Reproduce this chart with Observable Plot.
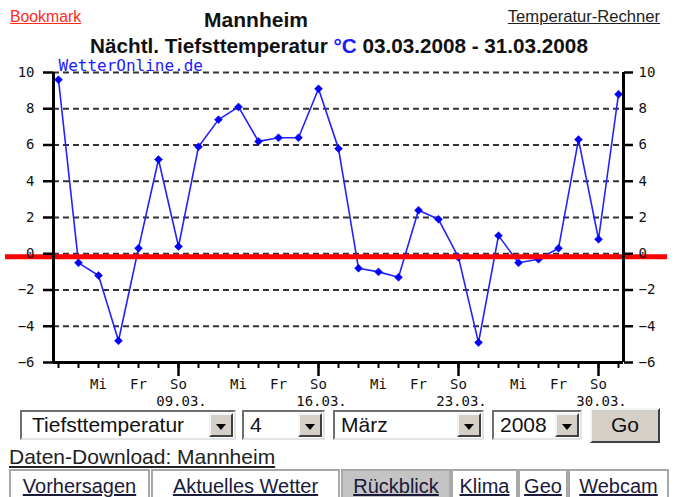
<!DOCTYPE html>
<html>
<head>
<meta charset="utf-8">
<script src="https://cdn.jsdelivr.net/npm/d3@7"></script>
<script src="https://cdn.jsdelivr.net/npm/@observablehq/plot@0.6"></script>
<style>
  body { margin:0; background:#fff; }
  #page { position:relative; width:677px; height:497px; overflow:hidden; background:#fff; font-family:"Liberation Sans", Arial, sans-serif; }
  .abs { position:absolute; line-height:1; white-space:nowrap; }
  .sel { position:absolute; top:410px; height:30px; box-sizing:border-box; border:2px solid; border-color:#6f6f6f #e4e4e4 #e4e4e4 #6f6f6f; background:#fff; font-size:21px; line-height:26px; color:#111; }
  .sel .t { position:absolute; left:10px; top:0; }
  .sel .btn { position:absolute; right:1px; top:1px; bottom:1px; width:24px; box-sizing:border-box; background:#d4d0c8; border:2px solid; border-color:#f4f4f4 #404040 #404040 #f4f4f4; }
  .sel .btn:after { content:""; position:absolute; left:5px; top:9px; width:0; height:0; border-left:5px solid transparent; border-right:5px solid transparent; border-top:6px solid #000; }
  .go { position:absolute; left:590px; top:408px; width:70px; height:35px; box-sizing:border-box; background:#d4d0c8; border:2px solid; border-color:#f4f4f4 #404040 #404040 #f4f4f4; font-size:21px; line-height:30px; text-align:center; color:#111; }
  .tab { position:absolute; top:469px; height:34px; box-sizing:border-box; border:2px solid #a8a8a8; background:#fff; font-size:20px; line-height:30px; text-align:center; color:#1a1a3a; }
  .tab span { text-decoration:underline; }
</style>
</head>
<body>
<div id="page">
  <div class="abs" style="left:10px;top:9px;font-size:15.8px;color:#ff2a1a;text-decoration:underline;">Bookmark</div>
  <div class="abs" style="left:0;width:512px;text-align:center;top:9px;font-size:21px;font-weight:bold;color:#111;">Mannheim</div>
  <div class="abs" style="right:17px;top:8.5px;font-size:16.6px;color:#222;text-decoration:underline;">Temperatur-Rechner</div>
  <div class="abs" style="left:0;width:678px;text-align:center;top:35.5px;font-size:20.7px;font-weight:bold;color:#111;">Nächtl. Tiefsttemperatur <span style="color:#1a1aff">°C</span> 03.03.2008 - 31.03.2008</div>
  <div id="chart" style="position:absolute;left:0;top:50px;"></div>
  <div class="sel" style="left:20px;width:216px;"><span class="t">Tiefsttemperatur</span><div class="btn"></div></div>
  <div class="sel" style="left:242px;width:83px;"><span class="t" style="left:6px">4</span><div class="btn"></div></div>
  <div class="sel" style="left:333px;width:151px;"><span class="t" style="left:6px">März</span><div class="btn"></div></div>
  <div class="sel" style="left:492px;width:90px;"><span class="t" style="left:6px">2008</span><div class="btn"></div></div>
  <div class="go">Go</div>
  <div class="abs" style="left:9px;top:446px;font-size:21px;color:#222;text-decoration:underline;">Daten-Download: Mannheim</div>
  <div class="tab" style="left:9px;width:141px;"><span>Vorhersagen</span></div>
  <div class="tab" style="left:151px;width:189px;"><span>Aktuelles Wetter</span></div>
  <div class="tab" style="left:341px;width:110px;background:#c4c4c4;"><span>Rückblick</span></div>
  <div class="tab" style="left:451px;width:67px;"><span>Klima</span></div>
  <div class="tab" style="left:518px;width:50px;"><span>Geo</span></div>
  <div class="tab" style="left:568px;width:101px;"><span>Webcam</span></div>
</div>
<script>
// ---- data ----
const dates = [
  "2008-03-03","2008-03-04","2008-03-05","2008-03-06","2008-03-07","2008-03-08","2008-03-09",
  "2008-03-10","2008-03-11","2008-03-12","2008-03-13","2008-03-14","2008-03-15","2008-03-16",
  "2008-03-17","2008-03-18","2008-03-19","2008-03-20","2008-03-21","2008-03-22","2008-03-23",
  "2008-03-24","2008-03-25","2008-03-26","2008-03-27","2008-03-28","2008-03-29","2008-03-30",
  "2008-03-31"
];
const tmin = [
  9.6, -0.5, -1.2, -4.8, 0.3, 5.2, 0.4,
  5.9, 7.4, 8.1, 6.2, 6.4, 6.4, 9.1,
  5.8, -0.8, -1.0, -1.3, 2.4, 1.9, -0.2,
  -4.9, 1.0, -0.5, -0.3, 0.3, 6.3, 0.8,
  8.8
];
const yTicks = [-6, -4, -2, 0, 2, 4, 6, 8, 10];
const gridValues = [-4, -2, 0, 2, 4, 6, 8, 10];
const weekdayNames = ["So", "Mo", "Di", "Mi", "Do", "Fr", "Sa"];
const labelledWeekdays = [3, 5, 0]; // Mi, Fr, So
const watermark = "WetterOnline.de";

// ---- build ----
const days = dates.map(d => new Date(d + "T00:00:00Z"));
const data = days.map((d, i) => ({date: d, t: tmin[i]}));
const sundays = days.filter(d => d.getUTCDay() === 0);
const labelled = days.filter(d => labelledWeekdays.includes(d.getUTCDay()));
const fmtDate = d3.utcFormat("%d.%m.");
const fmtY = d => String(d).replace("-", "\u2212");
const mono = "'DejaVu Sans Mono', monospace";

const chart = Plot.plot({
  width: 677,
  height: 362,
  marginLeft: 53,
  marginRight: 54,
  marginTop: 22,
  marginBottom: 50,
  x: {type: "utc", domain: [days[0], days[days.length - 1]], inset: 5, label: null},
  y: {domain: [-6, 10], label: null},
  style: {fontFamily: mono, fontSize: "14px", color: "#111", background: "transparent", overflow: "visible"},
  marks: [
    Plot.ruleY(gridValues, {stroke: "#333", strokeWidth: 2, strokeDasharray: "6,4"}),
    Plot.line(data, {x: "date", y: "t", stroke: "#2222ff", strokeWidth: 1.6}),
    Plot.dot(data, {x: "date", y: "t", symbol: "diamond2", r: 3.6, fill: "#0000ff", stroke: "#0000ff", strokeWidth: 0.5}),
    Plot.ruleY([0], {stroke: "#ff0000", strokeWidth: 5, dy: 3, insetLeft: -48, insetRight: -44}),
    Plot.ruleY([-6], {stroke: "#000", strokeWidth: 3}),
    Plot.ruleX([days[0]], {stroke: "#000", strokeWidth: 3, dx: -5}),
    Plot.ruleX([days[days.length - 1]], {stroke: "#000", strokeWidth: 3, dx: 5}),
    Plot.axisY(yTicks, {anchor: "left", label: null, tickSize: 10, tickPadding: 9, strokeWidth: 2.5, stroke: "#000", tickFormat: fmtY}),
    Plot.axisY(yTicks, {anchor: "right", label: null, tickSize: 9, tickPadding: 6, strokeWidth: 2.5, stroke: "#000", tickFormat: fmtY}),
    Plot.axisX(days, {anchor: "bottom", label: null, tickSize: 6, strokeWidth: 2, stroke: "#000", tickFormat: () => ""}),
    Plot.axisX(sundays, {anchor: "bottom", label: null, tickSize: 14, strokeWidth: 2.5, stroke: "#000", tickFormat: () => ""}),
    Plot.axisX(labelled, {anchor: "bottom", label: null, tickSize: 0, tickPadding: 17, tickFormat: d => weekdayNames[d.getUTCDay()]}),
    Plot.axisX(sundays, {anchor: "bottom", label: null, tickSize: 0, tickPadding: 34, dx: 3, tickFormat: d => fmtDate(d)}),
    Plot.text([watermark], {frameAnchor: "top-left", text: d => d, dx: 5, dy: -2, lineAnchor: "bottom", textAnchor: "start", fill: "#1a1aff", fontSize: 16})
  ]
});
document.getElementById("chart").appendChild(chart);
</script>
</body>
</html>
